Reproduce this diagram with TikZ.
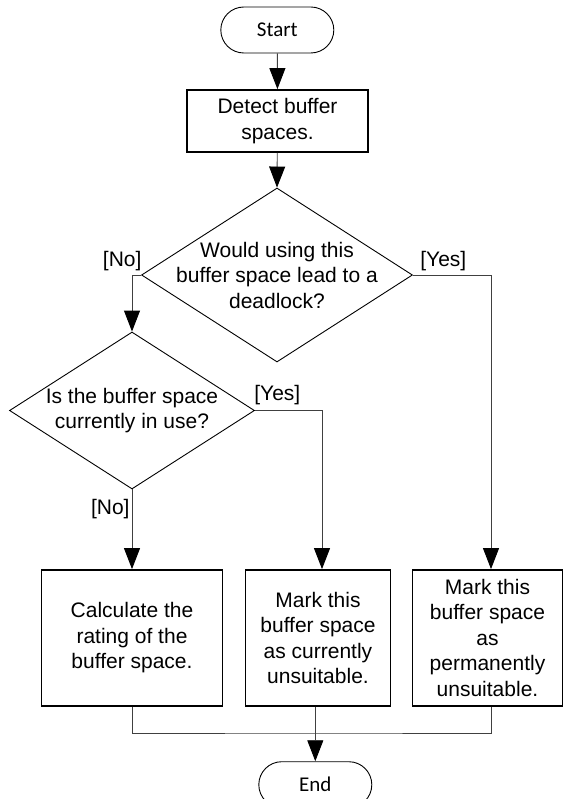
\documentclass[tikz,border=0pt]{standalone}
\usepackage{fontspec}
\setmainfont{Liberation Sans}
\newfontfamily\calib{Carlito}
\usetikzlibrary{shapes.geometric,arrows.meta,calc}
\begin{document}
\begin{tikzpicture}[x=1pt,y=-1pt,
  every node/.style={font=\fontsize{21}{25.5}\selectfont, inner sep=0pt},
  term/.style={draw, line width=0.9pt, rounded corners=23pt, minimum width=113pt, minimum height=46pt, font=\calib\fontsize{21}{25}\selectfont},
  proc/.style={draw, line width=1.8pt, align=center},
  dec/.style={draw, diamond, line width=0.9pt, inner sep=0pt},
  lbl/.style={align=center},
  conn/.style={draw=black!75, line width=0.9pt},
  arr/.style={conn, -{Triangle[length=21pt,width=16pt,color=black,fill=black]}}]
\useasboundingbox (0,0) rectangle (566,799);
\node[term] (start) at (277.3,30) {Start};
\node[proc, minimum width=181pt, minimum height=62pt] (detect) at (277.5,121) {Detect buffer\\spaces.};
\node[dec, minimum width=271pt, minimum height=174pt] (d1) at (277,275) {};
\node[lbl] (d1t) at (d1.center) {Would using this\\buffer space lead to a\\deadlock?};
\node[dec, minimum width=245pt, minimum height=157pt] (d2) at (132,410.5) {};
\node[lbl] (d2t) at (d2.center) {Is the buffer space\\currently in use?};
\node[proc, minimum width=181pt, minimum height=135.7pt] (box1) at (132,637.85) {Calculate the\\rating of the\\buffer space.};
\node[proc, minimum width=145pt, minimum height=135.7pt] (box2) at (318,637.85) {Mark this\\buffer space\\as currently\\unsuitable.};
\node[proc, minimum width=150pt, minimum height=135.7pt] (box3) at (487.5,637.85) {Mark this\\buffer space\\as\\permanently\\unsuitable.};
\node[term] (end) at (315.3,784.7) {End};
\coordinate (m) at (315.3,733);
\node (no1) at (122.2,260.7) {[No]};
\node (yes1) at (443.3,260.7) {[Yes]};
\node (yes2) at (277.3,395) {[Yes]};
\node (no2) at (110.3,509.3) {[No]};
\draw[arr] (start) -- (detect);
\draw[arr] (detect) -- (d1.north);
\draw[arr] (d1.west) -| (d2.north);
\draw[arr] (d1.east) -| ($(box3.north)+(3.5,0)$);
\draw[arr] (d2.east) -| ($(box2.north)+(4,0)$);
\draw[arr] (d2.south) -- (box1.north);
\draw[conn] (box1.south) |- (m) -| ($(box3.south)+(3.5,0)$);
\draw[arr] (box2.south -| end.north) -- (end.north);
\end{tikzpicture}
\end{document}
